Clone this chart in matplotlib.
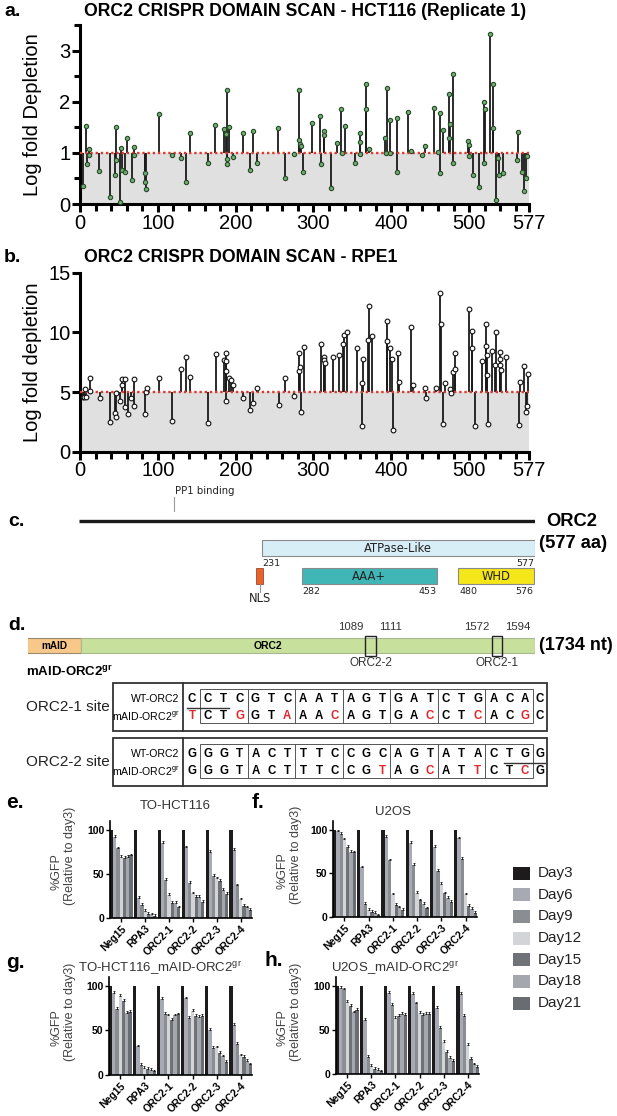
import matplotlib
matplotlib.use("Agg")
import matplotlib.pyplot as plt
from matplotlib.patches import Rectangle
from matplotlib.ticker import MultipleLocator

plt.rcParams['font.family'] = ['Liberation Sans', 'DejaVu Sans']
plt.rcParams['mathtext.fontset'] = 'custom'
plt.rcParams['mathtext.rm'] = 'Liberation Sans'
plt.rcParams['mathtext.bf'] = 'Liberation Sans:bold'
plt.rcParams['mathtext.it'] = 'Liberation Sans:italic'

# ------------------------------------------------------------------ data
a_pos = [4, 8, 9, 12, 12, 25, 39, 45, 46, 46,
         52, 53, 54, 58, 61, 67, 69, 70, 83, 84,
         85, 101, 118, 130, 136, 142, 164, 174, 185, 187,
         189, 189, 189, 192, 197, 209, 218, 222, 228, 255,
         263, 275, 282, 282, 283, 284, 287, 298, 308, 310,
         313, 313, 322, 330, 336, 337, 341, 353, 360, 360,
         360, 367, 368, 372, 392, 393, 395, 398, 399, 407,
         407, 422, 426, 440, 443, 455, 460, 462, 462, 467,
         474, 474, 476, 479, 479, 498, 500, 500, 505, 513,
         519, 519, 520, 527, 531, 531, 535, 537, 538, 544,
         561, 563, 568, 570, 573, 575]
a_val = [0.36, 1.53, 0.78, 1.08, 0.95, 0.65, 0.14, 0.57, 1.50, 0.86,
         0.03, 1.09, 0.67, 0.63, 1.29, 0.47, 1.11, 0.96, 0.60, 0.43,
         0.29, 1.76, 0.95, 0.89, 0.43, 1.39, 0.81, 1.55, 1.47, 1.36,
         2.23, 0.88, 0.79, 1.50, 0.91, 1.38, 0.67, 1.42, 0.80, 1.48,
         0.50, 0.98, 2.23, 1.25, 1.17, 1.13, 0.62, 1.58, 1.73, 0.78,
         1.43, 1.35, 0.31, 1.19, 1.85, 0.99, 1.52, 0.81, 1.39, 1.22,
         0.97, 1.85, 2.34, 1.07, 1.30, 0.99, 2.27, 0.99, 1.65, 1.69,
         0.63, 1.79, 1.03, 0.96, 1.13, 1.88, 1.01, 1.77, 0.61, 1.44,
         2.16, 1.29, 1.57, 2.54, 0.80, 1.24, 1.16, 0.93, 0.57, 0.33,
         0.80, 1.99, 1.86, 3.33, 2.35, 1.49, 0.08, 0.89, 0.56, 0.60,
         0.86, 1.40, 0.62, 0.25, 0.51, 0.93]
a_threshold = 1

b_pos = [4, 5, 7, 8, 13, 13, 26, 39, 45, 46,
         46, 52, 54, 54, 58, 58, 62, 66, 70, 70,
         84, 85, 86, 102, 118, 130, 136, 142, 164, 175,
         185, 187, 187, 187, 187, 192, 194, 197, 210, 219,
         222, 228, 256, 264, 275, 282, 282, 283, 284, 288,
         310, 313, 314, 315, 325, 333, 338, 339, 343, 356,
         362, 362, 364, 370, 371, 375, 394, 395, 398, 401,
         402, 409, 410, 425, 428, 443, 445, 458, 463, 464,
         466, 469, 476, 477, 479, 482, 482, 500, 504, 504,
         508, 516, 522, 522, 523, 523, 524, 530, 533, 534,
         540, 540, 540, 541, 547, 564, 566, 571, 573, 575, 576]
b_val = [4.6, 4.6, 5.27, 4.6, 6.14, 5.1, 4.47, 2.51, 3.21, 2.93,
         4.9, 4.27, 5.6, 6.1, 3.77, 6.07, 3.15, 4.5, 6.1, 3.85,
         3.15, 5.0, 5.35, 6.2, 2.6, 6.9, 7.9, 6.3, 2.4, 8.2,
         7.7, 8.3, 7.6, 6.8, 4.27, 6.2, 6.0, 5.6, 4.5, 3.5,
         4.1, 5.3, 3.95, 6.2, 4.7, 6.8, 8.3, 7.1, 3.35, 8.79,
         9.0, 7.95, 7.67, 7.44, 7.9, 8.1, 9.06, 9.76, 10.0, 8.68,
         5.77, 2.15, 7.78, 9.4, 12.25, 9.67, 9.25, 10.93, 8.65, 7.78,
         1.79, 8.28, 5.8, 10.46, 5.63, 5.36, 4.52, 5.36, 13.31, 10.74,
         2.29, 5.77, 5.27, 4.88, 6.64, 6.9, 8.23, 12.0, 10.12, 8.73,
         2.18, 7.62, 10.74, 8.84, 8.1, 6.45, 2.29, 8.4, 7.24, 10.07,
         8.36, 7.81, 7.25, 6.84, 7.9, 2.23, 5.8, 7.2, 3.35, 3.83, 6.5]
b_threshold = 5

scan_ticks = [0, 100, 200, 300, 400, 500, 577]

protein_len = 577
domain_names = ['ATPase-Like', 'AAA+', 'WHD']
domain_start = [231, 282, 480]
domain_end = [577, 453, 576]
domain_colors = ['#d8eef6', '#41b6b6', '#f5e619']
nls_span = [224, 233]
pp1_site = 120

construct_len = 1734
maid_len = 206
site_names = ['ORC2-2', 'ORC2-1']
site_start = [1089, 1572]
site_end = [1111, 1594]

orc2_1_wt = 'CCTCGTCAATAGTGATCTGACAC'
orc2_1_gr = 'TCTGGTAAACAGTGACCTCACGC'
orc2_2_wt = 'GGGTACTTTCCGCAGTATACTGG'
orc2_2_gr = 'GGGTACTTTCCGTAGCATTCTCG'

groups = ['Neg15', 'RPA3', 'ORC2-1', 'ORC2-2', 'ORC2-3', 'ORC2-4']
days = ['Day3', 'Day6', 'Day9', 'Day12', 'Day15', 'Day18', 'Day21']
day_colors = ['#1e1b1c', '#a7aab2', '#8a8d92', '#d2d4d8', '#6f7276', '#a4a7ad', '#696c70']

e_vals = [[100, 92, 79, 69, 68, 69, 71],
          [100, 23, 15, 8, 5, 4, 2],
          [100, 85, 43, 26, 17, 17, 12],
          [100, 80, 40, 28, 24, 24, 18],
          [100, 75, 48, 45, 42, 32, 27],
          [100, 77, 37, 21, 14, 12, 9]]
f_vals = [[100, 98, 95, 89, 80, 75, 74],
          [100, 57, 15, 8, 6, 5, 2],
          [100, 92, 65, 26, 14, 11, 8],
          [100, 85, 60, 28, 19, 15, 10],
          [100, 80, 53, 38, 27, 22, 17],
          [100, 90, 67, 26, 13, 9, 5]]
g_vals = [[100, 92, 74, 89, 83, 70, 71],
          [100, 32, 11, 8, 7, 6, 4],
          [100, 85, 69, 67, 62, 67, 68],
          [100, 86, 64, 72, 66, 65, 66],
          [100, 51, 30, 31, 25, 21, 15],
          [100, 56, 35, 22, 20, 16, 12]]
h_vals = [[100, 98, 96, 82, 77, 70, 73],
          [100, 61, 19, 9, 6, 5, 3],
          [100, 92, 78, 64, 66, 68, 67],
          [100, 91, 80, 69, 67, 68, 68],
          [100, 75, 52, 36, 25, 18, 15],
          [100, 91, 66, 33, 17, 11, 8]]
err_size = 2.0

assert len(a_pos) == len(a_val) and len(b_pos) == len(b_val)

# ------------------------------------------------------------------ figure
W, H = 617, 1116
fig = plt.figure(figsize=(W / 100, H / 100), dpi=100)


def add_ax(l, t, r, b, **kw):
    return fig.add_axes([l / W, 1 - b / H, (r - l) / W, (b - t) / H], **kw)


ov = fig.add_axes([0, 0, 1, 1])
ov.set_xlim(0, W)
ov.set_ylim(H, 0)
ov.axis('off')


def T(x, y, s, **kw):
    kw.setdefault('va', 'center')
    ov.text(x, y, s, **kw)


# ------------------------------------------------------------------ a & b
def scan_panel(top, bottom, pos, val, thr, ymax, yticks, yminor, mfc, mec, ms, ylabel, title, letter, ty):
    ax = add_ax(80, top, 529, bottom)
    ax.set_xlim(0, 577)
    ax.set_ylim(0, ymax)
    ax.axhspan(0, thr, facecolor='#e0e0e0', edgecolor='none', zorder=0)
    ax.vlines(pos, thr, val, colors='#1a1a1a', lw=1.3, zorder=2)
    ax.hlines(thr, 0, 577, colors='#e5352b', linestyles=(0, (1, 1.2)), lw=1.7, zorder=3)
    ax.plot(pos, val, 'o', ms=ms, mfc=mfc, mec=mec, mew=0.8, zorder=4, clip_on=False)
    for s in ['top', 'right']:
        ax.spines[s].set_visible(False)
    for s in ['left', 'bottom']:
        ax.spines[s].set_linewidth(2.2)
    ax.set_xticks(scan_ticks)
    ax.xaxis.set_minor_locator(MultipleLocator(20))
    ax.set_yticks(yticks)
    if yminor:
        ax.yaxis.set_minor_locator(MultipleLocator(yminor))
    ax.tick_params(which='both', direction='out', width=2.2, labelsize=14.5, pad=1)
    ax.tick_params(which='major', length=6)
    ax.tick_params(which='minor', length=5)
    ax.tick_params(axis='y', which='minor', length=4)
    ax.set_ylabel(ylabel, fontsize=14.5)
    ax.yaxis.set_label_coords(-0.085, 0.5)
    T(84, ty, title, fontsize=12.7, fontweight='bold', ha='left')
    T(4, ty, letter, fontsize=14, fontweight='bold', ha='left')
    return ax


scan_panel(25, 204, a_pos, a_val, a_threshold, 3.5, [0, 1, 2, 3], 0.5,
           '#6fae6f', '#2a4a2c', 3.1, 'Log fold Depletion',
           'ORC2 CRISPR DOMAIN SCAN - HCT116 (Replicate 1)', 'a.', 12)
scan_panel(272.7, 451.7, b_pos, b_val, b_threshold, 15, [0, 5, 10, 15], None,
           'white', '#111111', 3.4, 'Log fold depletion',
           'ORC2 CRISPR DOMAIN SCAN - RPE1', 'b.', 257)

# ------------------------------------------------------------------ c
axc = add_ax(79, 480, 535, 610)
axc.set_xlim(0, protein_len)
axc.set_ylim(610, 480)
axc.axis('off')
vf = ['DejaVu Sans']
axc.plot([0, protein_len], [521, 521], color='#1a1a1a', lw=2.4, solid_capstyle='butt')
axc.plot([pp1_site, pp1_site], [497, 511], color='#9a9a9a', lw=0.8)
axc.text(pp1_site + 1, 491, 'PP1 binding', fontsize=7.3, family=vf, ha='left', va='center', color='#222')
for name, s, e, c in zip(domain_names, domain_start, domain_end, domain_colors):
    if name == 'ATPase-Like':
        y0, h = 540, 16
    else:
        y0, h = 568, 16
    axc.add_patch(Rectangle((s, y0), e - s, h, facecolor=c, edgecolor='#8a8a8a', lw=0.8))
    axc.text((s + e) / 2, y0 + h / 2, name, fontsize=8.3, family=vf, ha='center', va='center', color='#222')
    axc.text(s + 1, y0 + h + 7, str(s), fontsize=6.8, family=vf, ha='left', va='center', color='#222')
    axc.text(e - 1, y0 + h + 7, str(e), fontsize=6.8, family=vf, ha='right', va='center', color='#222')
axc.add_patch(Rectangle((nls_span[0], 568), nls_span[1] - nls_span[0], 16,
                        facecolor='#e8622a', edgecolor='#9a4a2a', lw=0.6))
nls_mid = (nls_span[0] + nls_span[1]) / 2
axc.plot([nls_mid, nls_mid], [584, 592], color='#9a9a9a', lw=0.8)
axc.text(nls_mid, 599, 'NLS', fontsize=8.3, family=vf, ha='center', va='center', color='#222')
T(8, 521, 'c.', fontsize=14, fontweight='bold', ha='left')
T(546, 521, 'ORC2', fontsize=13.2, fontweight='bold', ha='left')
T(539, 543, '(%d aa)' % protein_len, fontsize=13.2, fontweight='bold', ha='left')

# ------------------------------------------------------------------ d
axd = add_ax(27.5, 615, 535, 680)
axd.set_xlim(-maid_len, construct_len)
axd.set_ylim(680, 615)
axd.axis('off')
axd.add_patch(Rectangle((-maid_len, 638), maid_len, 15, facecolor='#f8c88a', edgecolor='#9a8a70', lw=0.8))
axd.add_patch(Rectangle((0, 638), construct_len, 15, facecolor='#c7e09c', edgecolor='#a8b890', lw=0.8))
axd.text(-maid_len / 2, 646, 'mAID', fontsize=7.2, fontweight='bold', ha='center', va='center')
axd.text(713, 646, 'ORC2', fontsize=7.5, fontweight='bold', ha='center', va='center')
for name, s, e in zip(site_names, site_start, site_end):
    x0, x1 = s - 4, e + 14
    axd.add_patch(Rectangle((x0, 636), x1 - x0, 20, facecolor='none', edgecolor='#222', lw=1.0))
    axd.text(x0 - 8, 627, str(s), fontsize=8.2, ha='right', va='center', color='#333')
    axd.text(x1 + 12, 627, str(e), fontsize=8.2, ha='left', va='center', color='#333')
    axd.text((x0 + x1) / 2, 663, name, fontsize=8.5, ha='center', va='center', color='#333')
T(8, 625, 'd.', fontsize=14, fontweight='bold', ha='left')
T(539, 645, '(%d nt)' % construct_len, fontsize=13, fontweight='bold', ha='left')
T(26, 672, r'mAID-ORC2$^{\mathbf{gr}}$', fontsize=9.5, fontweight='bold', ha='left')

RED = '#e3262b'


def seq_table(top, label, wt, gr, underline):
    bot = top + 48
    ov.add_patch(Rectangle((113, top), 434, 48, facecolor='none', edgecolor='#333', lw=1.3))
    ov.plot([183, 183], [top, bot], color='#333', lw=1.3)
    ib_t, ib_b = top + 6, top + 40
    cw = 333 / 7
    ov.add_patch(Rectangle((200, ib_t), 333, ib_b - ib_t, facecolor='none', edgecolor='#555', lw=0.7))
    for k in range(1, 7):
        ov.plot([200 + k * cw, 200 + k * cw], [ib_t, ib_b], color='#555', lw=0.7)
    r1, r2 = top + 16, top + 33
    xs = [192] + [200 + (i // 3) * cw + (2 * (i % 3) + 1) * cw / 6 for i in range(21)] + [540]
    for i, (c1, c2) in enumerate(zip(wt, gr)):
        T(xs[i], r1, c1, fontsize=8.3, fontweight='bold', ha='center')
        T(xs[i], r2, c2, fontsize=8.3, fontweight='bold', ha='center', color=RED if c1 != c2 else 'black')
    T(179, r1, 'WT-ORC2', fontsize=7.6, ha='right')
    T(179, r2, r'mAID-ORC2$^{\mathrm{gr}}$', fontsize=7.6, ha='right')
    T(26, (top + bot) / 2, label, fontsize=11, ha='left', color='#222')
    i0, i1 = underline
    ov.plot([xs[i0] - 5, xs[i1] + 5], [top + 24.5, top + 24.5], color='#333', lw=1.0)


seq_table(683, 'ORC2-1 site', orc2_1_wt, orc2_1_gr, (0, 2))
seq_table(738, 'ORC2-2 site', orc2_2_wt, orc2_2_gr, (20, 22))

# ------------------------------------------------------------------ e-h
bw = 0.135


def bar_panel(l, t, r, b, vals, title, tx, ty, letter, lx, ly, yl_x):
    ax = add_ax(l, t, r, b)
    n = len(groups)
    for j, d in enumerate(days):
        xs = [i + (j - 3) * bw for i in range(n)]
        ys = [vals[i][j] for i in range(n)]
        ax.bar(xs, ys, width=bw, color=day_colors[j], linewidth=0, label=d, zorder=2)
        if j > 0:
            ax.errorbar(xs, ys, yerr=[[0] * n, [err_size] * n], fmt='none', ecolor='#111',
                        elinewidth=0.6, capsize=1.0, capthick=0.6, zorder=3)
    ax.set_xlim(-3.5 * bw, n - 1 + 3.5 * bw)
    ax.set_ylim(0, 110)
    for s in ['top', 'right']:
        ax.spines[s].set_visible(False)
    for s in ['left', 'bottom']:
        ax.spines[s].set_linewidth(1.2)
    ax.set_yticks([0, 50, 100])
    ax.set_xticks(range(n))
    ax.set_xticklabels(groups, rotation=45, ha='right', rotation_mode='anchor', fontweight='bold', fontsize=7.5)
    for tl in ax.get_yticklabels():
        tl.set_fontweight('bold')
    ax.tick_params(axis='y', labelsize=7.5, length=3, width=1.0, pad=1)
    ax.tick_params(axis='x', length=3, width=1.0, pad=1)
    T(tx, ty, title, fontsize=9.5, ha='center', color='#333')
    T(lx, ly, letter, fontsize=15, fontweight='bold', ha='left')
    yc = (t + b) / 2 - 14
    T(yl_x, yc + 16, '%GFP', fontsize=9, rotation=90, ha='center', color='#444')
    T(yl_x + 13, yc, '(Relative to day3)', fontsize=9, rotation=90, ha='center', color='#444')
    return ax


bar_panel(110, 821, 252, 918, e_vals, 'TO-HCT116', 175, 806, 'e.', 6, 803, 57)
bar_panel(333, 821, 477, 917, f_vals, 'U2OS', 393, 812, 'f.', 252, 803, 283)
bar_panel(109, 977, 252, 1075, g_vals, r'TO-HCT116_mAID-ORC2$^{\mathrm{gr}}$', 160, 968, 'g.', 6, 963, 57)
bar_panel(336, 977, 479, 1074, h_vals, r'U2OS_mAID-ORC2$^{\mathrm{gr}}$', 395, 968, 'h.', 264, 960, 283)

# legend
for k, (d, c) in enumerate(zip(days, day_colors)):
    y = 873 + k * 21.7
    ov.add_patch(Rectangle((513, y - 6.5), 17, 13, facecolor=c, edgecolor='none'))
    T(538, y, d, fontsize=11, ha='left', color='#222')

fig.savefig('out.png', dpi=100)
